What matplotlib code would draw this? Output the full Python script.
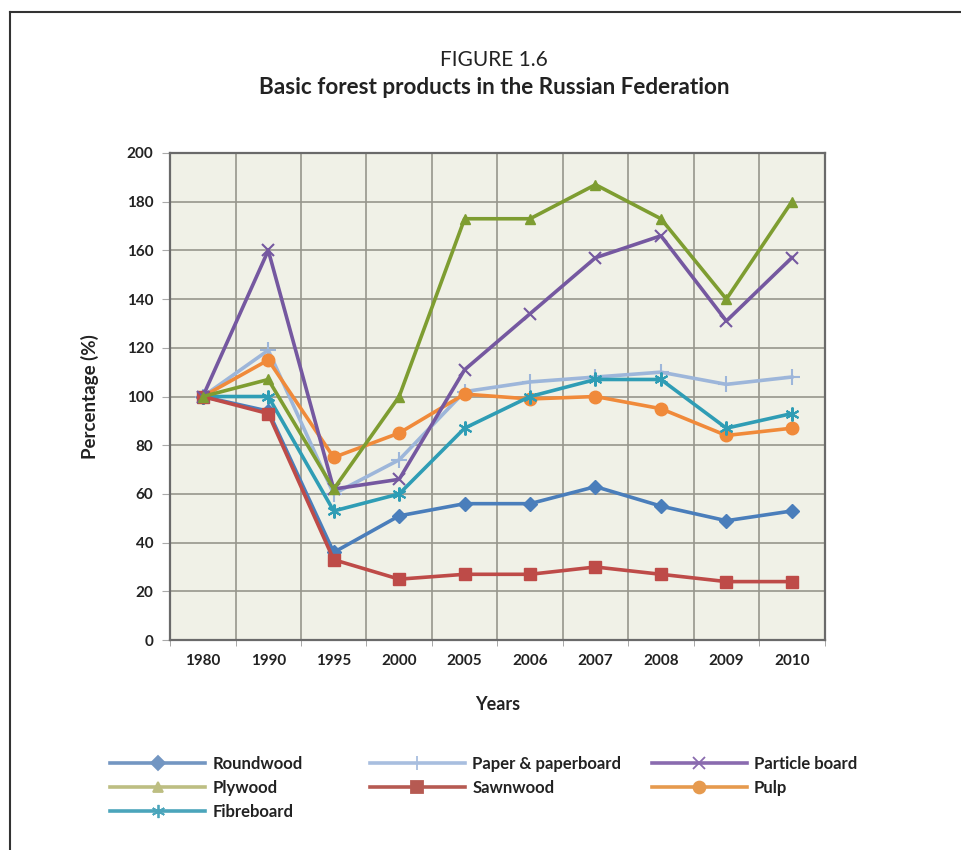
import matplotlib.pyplot as plt
from matplotlib.lines import Line2D
import numpy as np

plt.rcParams['font.family'] = ['Lato', 'DejaVu Sans']

years = ['1980', '1990', '1995', '2000', '2005', '2006', '2007', '2008', '2009', '2010']

roundwood = [100, 94, 36, 51, 56, 56, 63, 55, 49, 53]
paper = [100, 119, 60, 74, 102, 106, 108, 110, 105, 108]
particle = [100, 160, 62, 66, 111, 134, 157, 166, 131, 157]
plywood = [100, 107, 62, 100, 173, 173, 187, 173, 140, 180]
sawnwood = [100, 93, 33, 25, 27, 27, 30, 27, 24, 24]
pulp = [100, 115, 75, 85, 101, 99, 100, 95, 84, 87]
fibreboard = [100, 100, 53, 60, 87, 100, 107, 107, 87, 93]

# name, values, plot colour, legend colour, marker, marker size
series = [
    ('Roundwood', roundwood, '#4A7EBB', '#7396C2', 'D', 7),
    ('Paper & paperboard', paper, '#9DB6DA', '#A8BEDF', '+', 11),
    ('Particle board', particle, '#7558A0', '#8A6BAF', 'x', 9),
    ('Plywood', plywood, '#7E9D31', '#BDBE82', '^', 7),
    ('Sawnwood', sawnwood, '#BE4B48', '#B65A52', 's', 9),
    ('Pulp', pulp, '#F08A3A', '#E69A4E', 'o', 9),
    ('Fibreboard', fibreboard, '#2F9DB5', '#4BA5BB', (6, 2, 0), 10),
]

fig = plt.figure(figsize=(9.61, 8.5), dpi=100)
ax = fig.add_axes([0.177, 0.247, 0.681, 0.573])
ax.set_facecolor('#F0F1E7')

x = np.arange(len(years))
# draw order: pale ones first
for idx in [1, 5, 6, 0, 4, 2, 3]:
    name, vals, col, lcol, mk, ms = series[idx]
    ax.plot(x, vals, color=col, lw=2.6, marker=mk, markersize=ms,
            markeredgewidth=1.5 if mk in ('+', 'x', (6, 2, 0)) else 1,
            markeredgecolor=col, zorder=3)

ax.set_xlim(-0.5, len(years) - 0.5)
ax.set_ylim(0, 200)
ax.set_yticks(range(0, 201, 20))
ax.set_xticks(x)
ax.set_xticklabels(years, fontsize=11, fontweight='bold', color='#222222')
ax.set_xticks(np.arange(-0.5, len(years), 1), minor=True)
ax.tick_params(axis='x', which='major', length=0, pad=10)
ax.tick_params(axis='x', which='minor', length=4, color='#999999')
ax.tick_params(axis='y', length=6, color='#AAAAAA', pad=6, labelsize=11)
for lab in ax.get_yticklabels():
    lab.set_fontweight('bold')
    lab.set_color('#222222')
ax.grid(True, which='minor', axis='x', color='#96968C', lw=1.2)
ax.grid(True, which='major', axis='y', color='#96968C', lw=1.2)
ax.set_axisbelow(True)
for sp in ax.spines.values():
    sp.set_color('#6A6A6A')
    sp.set_linewidth(1.6)

ax.set_xlabel('Years', fontsize=13, fontweight='bold', labelpad=20, color='#222222')
ax.set_ylabel('Percentage (%)', fontsize=13.5, fontweight='bold', labelpad=20, color='#222222')

fig.text(0.514, 0.930, 'FIGURE 1.6', ha='center', va='center', fontsize=15, color='#222222')
fig.text(0.514, 0.897, 'Basic forest products in the Russian Federation', ha='center',
         va='center', fontsize=16.2, fontweight='bold', color='#222222')

# page frame lines (top and left)
fig.add_artist(Line2D([0.0105, 1.0], [0.986, 0.986], transform=fig.transFigure, color='#333333', lw=1.5))
fig.add_artist(Line2D([0.0105, 0.0105], [0.0, 0.986], transform=fig.transFigure, color='#333333', lw=1.5))

# legend, three columns
cols = [[0, 3, 6], [1, 4], [2, 5]]
col_x = [0.1145, 0.385, 0.678]
for cx, ids in zip(col_x, cols):
    handles = []
    for i in ids:
        name, vals, col, lcol, mk, ms = series[i]
        handles.append(Line2D([], [], color=lcol, lw=2.6, marker=mk, markersize=ms * 0.95,
                              markeredgecolor=lcol, markeredgewidth=1.3, label=name))
    fig.legend(handles=handles, loc='upper left', bbox_to_anchor=(cx, 0.111),
               frameon=False, handlelength=5.7, handletextpad=0.45, labelspacing=0.5,
               prop={'size': 12, 'weight': 'bold'}, borderaxespad=0, borderpad=0,
               labelcolor='#222222')

fig.savefig('out.png', dpi=100)
